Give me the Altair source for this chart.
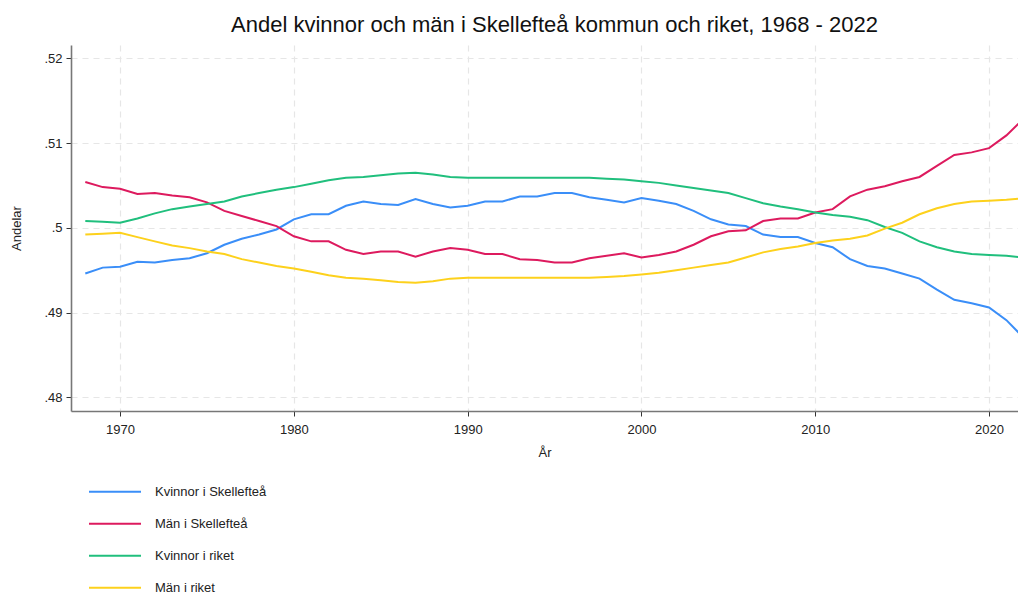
import altair as alt
import pandas as pd

years = list(range(1968, 2023))

kvinnor_skelleftea = [
    0.4946, 0.4953, 0.4954, 0.4960, 0.4959, 0.4962, 0.4964, 0.4970, 0.4980, 0.4987, 0.4992, 0.4998,
    0.5010, 0.5016, 0.5016, 0.5026, 0.5031, 0.5028, 0.5027, 0.5034, 0.5028, 0.5024,
    0.5026, 0.5031, 0.5031, 0.5037, 0.5037, 0.5041, 0.5041, 0.5036, 0.5033, 0.5030,
    0.5035, 0.5032, 0.5028, 0.5020, 0.5010, 0.5004, 0.5002, 0.4992, 0.4989, 0.4989,
    0.4982, 0.4977, 0.4963, 0.4955, 0.4952, 0.4946, 0.4940, 0.4927, 0.4915, 0.4911,
    0.4906, 0.4891, 0.4870,
]
man_skelleftea = [
    0.5054, 0.5048, 0.5046, 0.5040, 0.5041, 0.5038, 0.5036, 0.5030, 0.5020, 0.5014, 0.5008, 0.5002,
    0.4990, 0.4984, 0.4984, 0.4974, 0.4969, 0.4972, 0.4972, 0.4966, 0.4972, 0.4976,
    0.4974, 0.4969, 0.4969, 0.4963, 0.4962, 0.4959, 0.4959, 0.4964, 0.4967, 0.4970,
    0.4965, 0.4968, 0.4972, 0.4980, 0.4990, 0.4996, 0.4997, 0.5008, 0.5011, 0.5011,
    0.5018, 0.5022, 0.5037, 0.5045, 0.5049, 0.5055, 0.5060, 0.5073, 0.5086, 0.5089,
    0.5094, 0.5109, 0.5129,
]
kvinnor_riket = [
    0.5008, 0.5007, 0.5006, 0.5011, 0.5017, 0.5022, 0.5025, 0.5028, 0.5031, 0.5037, 0.5041, 0.5045,
    0.5048, 0.5052, 0.5056, 0.5059, 0.5060, 0.5062, 0.5064, 0.5065, 0.5063, 0.5060,
    0.5059, 0.5059, 0.5059, 0.5059, 0.5059, 0.5059, 0.5059, 0.5059, 0.5058, 0.5057,
    0.5055, 0.5053, 0.5050, 0.5047, 0.5044, 0.5041, 0.5035, 0.5029, 0.5025, 0.5022,
    0.5018, 0.5015, 0.5013, 0.5009, 0.5001, 0.4994, 0.4984, 0.4977, 0.4972, 0.4969,
    0.4968, 0.4967, 0.4965,
]
man_riket = [
    0.4992, 0.4993, 0.4994, 0.4989, 0.4984, 0.4979, 0.4976, 0.4972, 0.4969, 0.4963, 0.4959, 0.4955,
    0.4952, 0.4948, 0.4944, 0.4941, 0.4940, 0.4938, 0.4936, 0.4935, 0.4937, 0.4940,
    0.4941, 0.4941, 0.4941, 0.4941, 0.4941, 0.4941, 0.4941, 0.4941, 0.4942, 0.4943,
    0.4945, 0.4947, 0.4950, 0.4953, 0.4956, 0.4959, 0.4965, 0.4971, 0.4975, 0.4978,
    0.4982, 0.4985, 0.4987, 0.4991, 0.4999, 0.5006, 0.5016, 0.5023, 0.5028, 0.5031,
    0.5032, 0.5033, 0.5035,
]

series_names = ["Kvinnor i Skellefteå", "Män i Skellefteå", "Kvinnor i riket", "Män i riket"]
series_colors = ["#3a8ef8", "#dd1a5e", "#20bf7d", "#fdd11c"]
x_ticks = [1970, 1980, 1990, 2000, 2010, 2020]
y_ticks = [0.48, 0.49, 0.50, 0.51, 0.52]

rows = []
for name, vals in zip(series_names, [kvinnor_skelleftea, man_skelleftea, kvinnor_riket, man_riket]):
    for yr, v in zip(years, vals):
        rows.append({"Ar": yr, "Andel": v, "Serie": name})
df = pd.DataFrame(rows)

FONT = "Liberation Sans"

chart = (
    alt.Chart(df)
    .mark_line(strokeWidth=2)
    .encode(
        x=alt.X(
            "Ar:Q",
            title="År",
            scale=alt.Scale(domain=[1967.177, 2021.666], nice=False, zero=False),
            axis=alt.Axis(values=x_ticks, format="d", labelPadding=7, titlePadding=10),
        ),
        y=alt.Y(
            "Andel:Q",
            title="Andelar",
            scale=alt.Scale(domain=[0.47838, 0.52157], nice=False, zero=False),
            axis=alt.Axis(
                values=y_ticks,
                labelExpr="substring(format(datum.value, '.2~f'), 1)",
                labelPadding=4,
                titlePadding=20,
            ),
        ),
        color=alt.Color(
            "Serie:N",
            scale=alt.Scale(domain=series_names, range=series_colors),
            legend=alt.Legend(
                title=None,
                orient="none",
                direction="vertical",
                legendX=17,
                legendY=431,
                symbolType="stroke",
                symbolSize=2704,
                symbolStrokeWidth=2,
                labelOffset=13,
                rowPadding=0,
                clipHeight=31.7,
                labelFontSize=13,
                labelFont=FONT,
                labelColor="#222222",
            ),
        ),
        order=alt.Order("Ar:Q"),
    )
    .properties(
        width=947,
        height=366,
        title=alt.TitleParams(
            "Andel kvinnor och män i Skellefteå kommun och riket, 1968 - 2022",
            fontSize=22,
            font=FONT,
            fontWeight="normal",
            color="#111111",
            anchor="middle",
            offset=8.5,
            dx=10,
        ),
        autosize=alt.AutoSizeParams(type="none"),
        padding={"left": 63, "top": 37, "right": 0, "bottom": 189},
    )
    .configure_view(stroke=None)
    .configure_axis(
        labelFont=FONT,
        titleFont=FONT,
        labelFontSize=13,
        titleFontSize=13,
        titleFontWeight="normal",
        labelColor="#222222",
        titleColor="#222222",
        domainColor="#777777",
        domainWidth=1.6,
        tickColor="#333333",
        tickSize=5,
        gridColor="#e6e6e6",
        gridDash=[6, 5],
        gridWidth=1.2,
    )
)

chart.save("out.html", embed_options={"renderer": "svg", "actions": False})
